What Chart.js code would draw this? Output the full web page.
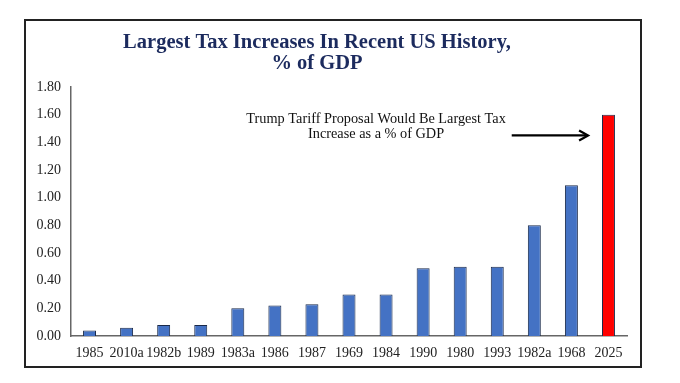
<!DOCTYPE html>
<html>
<head>
<meta charset="utf-8">
<script src="https://cdn.jsdelivr.net/npm/chart.js@4"></script>
<style>
  body { margin: 0; background: #fff; }
  #frame {
    position: absolute; left: 24px; top: 19px;
    width: 614px; height: 345px;
    border: 2px solid #222;
  }
</style>
</head>
<body>
<div id="frame"><canvas id="taxChart" width="614" height="345"></canvas></div>
<script>
const years = ["1985", "2010a", "1982b", "1989", "1983a", "1986", "1987", "1969", "1984", "1990", "1980", "1993", "1982a", "1968", "2025"];
const pctGdp = [0.04, 0.06, 0.08, 0.08, 0.20, 0.22, 0.23, 0.30, 0.30, 0.49, 0.50, 0.50, 0.80, 1.09, 1.60];
const yTicks = [0, 0.2, 0.4, 0.6, 0.8, 1.0, 1.2, 1.4, 1.6, 1.8];
const titleLines = ["Largest Tax Increases In Recent US History,", "% of GDP"];
const noteLines = ["Trump Tariff Proposal Would Be Largest Tax", "Increase as a % of GDP"];

const barColors = years.map(y => y == "2025" ? "#ff0000" : "#4472c4");

// title (drawn by hand so it can sit a bit left of centre) + note with arrow
const notePlugin = {
  id: "note",
  afterDatasetsDraw(chart) {
    const ctx = chart.ctx;
    const x = chart.scales.x, y = chart.scales.y;
    ctx.save();
    ctx.textAlign = "center";
    ctx.textBaseline = "middle";

    ctx.fillStyle = "#1c2b5e";
    ctx.font = "bold 20.5px 'Liberation Serif'";
    const tx = chart.width / 2 - 16;
    ctx.fillText(titleLines[0], tx, 22);
    ctx.fillText(titleLines[1], tx, 43);

    ctx.fillStyle = "#111";
    ctx.font = "14.3px 'Liberation Serif'";
    const cx = x.getPixelForValue(7.73);
    ctx.fillText(noteLines[0], cx, y.getPixelForValue(1.565));
    ctx.fillText(noteLines[1], cx, y.getPixelForValue(1.455));

    const ay = y.getPixelForValue(1.45);
    const x0 = x.getPixelForValue(11.39), x1 = x.getPixelForValue(13.45);
    ctx.strokeStyle = "#000";
    ctx.lineWidth = 2.2;
    ctx.beginPath();
    ctx.moveTo(x0, ay);
    ctx.lineTo(x1 - 2, ay);
    ctx.stroke();
    ctx.beginPath();
    ctx.moveTo(x1 - 9, ay - 5);
    ctx.lineTo(x1, ay);
    ctx.lineTo(x1 - 9, ay + 5);
    ctx.stroke();
    ctx.restore();
  }
};

new Chart(document.getElementById("taxChart"), {
  type: "bar",
  data: {
    labels: years,
    datasets: [{
      data: pctGdp,
      backgroundColor: barColors,
      borderColor: "#1a2a4a",
      borderWidth: 1,
      barPercentage: 0.35,
      categoryPercentage: 1.0
    }]
  },
  options: {
    responsive: false,
    animation: false,
    layout: { padding: { left: 0, right: 13, top: 66, bottom: 0 } },
    plugins: {
      legend: { display: false },
      tooltip: { enabled: false },
      title: { display: false }
    },
    scales: {
      x: {
        grid: { display: false, drawTicks: false },
        border: { color: "#666", width: 1.5 },
        ticks: { color: "#222", font: { family: "'Liberation Serif'", size: 14 }, padding: 9, maxRotation: 0, autoSkip: false },
        afterFit(s) { s.height = 30; }
      },
      y: {
        min: 0, max: 1.8,
        afterBuildTicks(s) { s.ticks = yTicks.map(v => ({ value: v })); },
        grid: { display: false, drawTicks: false },
        border: { color: "#666", width: 1.5 },
        ticks: {
          color: "#222",
          font: { family: "'Liberation Serif'", size: 14 },
          padding: 10,
          callback: v => v.toFixed(2)
        },
        afterFit(s) { s.width = 45; }
      }
    }
  },
  plugins: [notePlugin]
});
</script>
</body>
</html>
